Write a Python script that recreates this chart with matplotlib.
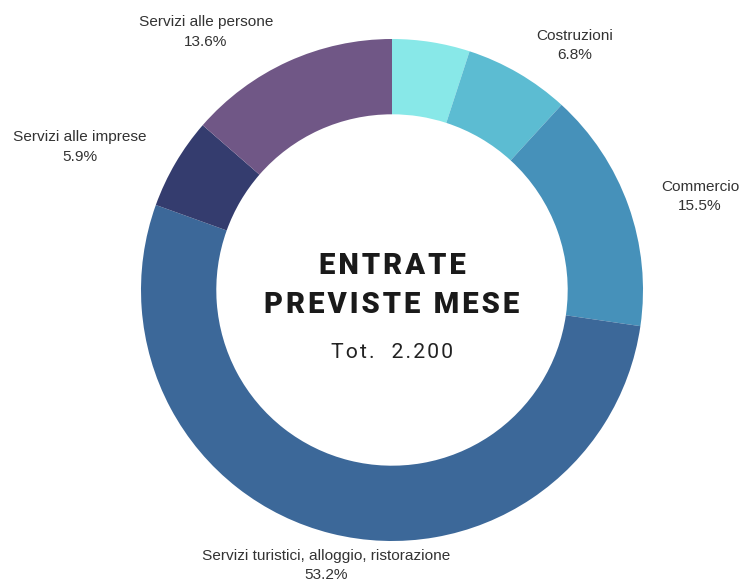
import matplotlib.pyplot as plt

# Data
sectors = ['', 'Costruzioni', 'Commercio', 'Servizi turistici, alloggio, ristorazione',
           'Servizi alle imprese', 'Servizi alle persone']
shares = [5.0, 6.8, 15.5, 53.2, 5.9, 13.6]
colors = ['#88E8E8', '#5CBCD2', '#4691BA', '#3C6899', '#343C6E', '#705786']
title_lines = ['ENTRATE', 'PREVISTE MESE']
total_label = 'Tot.  2.200'

# label anchor positions (outer radius = 1)
label_pos = [None, (0.729, 0.975), (1.227, 0.372), (-0.263, -1.098),
             (-1.243, 0.570), (-0.741, 1.028)]


def spaced(s, gap='\u200a'):
    # fake letter spacing
    return gap.join(s)


fig = plt.figure(figsize=(7.42, 5.83), dpi=100)
ax = fig.add_axes([0, 0, 1, 1])

ax.pie(shares, colors=colors, startangle=90, counterclock=False, radius=1.0,
       wedgeprops=dict(width=0.30, edgecolor='none'))

for name, val, pos in zip(sectors, shares, label_pos):
    if not name:
        continue
    ax.text(pos[0], pos[1], f'{name}\n{val:.1f}%', ha='center', va='center',
            fontsize=11.1, family='Liberation Sans', color='#333333', linespacing=1.5)

fam = ['Roboto', 'DejaVu Sans']
ax.text(0, 0.095, spaced(title_lines[0]), ha='center', va='center', fontsize=21,
        family=fam, fontweight='heavy', color='#1a1a1a')
ax.text(0, -0.059, spaced(title_lines[1]), ha='center', va='center', fontsize=21,
        family=fam, fontweight='heavy', color='#1a1a1a')
ax.text(0, -0.25, spaced(total_label), ha='center', va='center', fontsize=15.2,
        family=fam, color='#222222')

ax.set_xlim(-392 / 251, 350 / 251)
ax.set_ylim(-293 / 251, 290 / 251)
ax.set_aspect('equal')
ax.axis('off')

fig.savefig('out.png', dpi=100, facecolor='white')
